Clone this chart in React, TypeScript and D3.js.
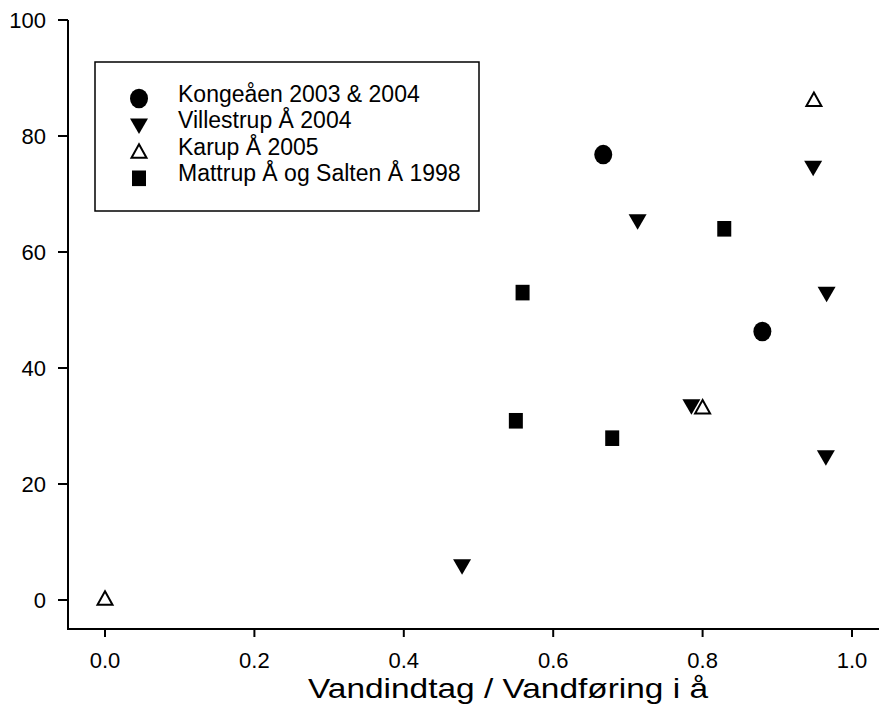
import React from "react";
import * as d3 from "d3";

// series: [x, y]
const kongeaaen = [[0.667, 76.8], [0.880, 46.3]];
const villestrup = [[0.478, 5.9], [0.713, 65.4], [0.948, 74.6], [0.966, 52.9], [0.785, 33.5], [0.965, 24.7]];
const karup = [[0.0, 0.2], [0.949, 86.2], [0.800, 33.2]];
const mattrup = [[0.559, 53.0], [0.550, 30.9], [0.679, 27.9], [0.829, 64.0]];

const seriesNames = ["Kongeåen 2003 & 2004", "Villestrup Å 2004", "Karup Å 2005", "Mattrup Å og Salten Å 1998"];
const seriesMarkers = ["circle", "down", "up", "square"];
const xTicks = [0, 0.2, 0.4, 0.6, 0.8, 1.0];
const yTicks = [0, 20, 40, 60, 80, 100];
const xLabel = "Vandindtag / Vandføring i å";

const W = 880, H = 711;
const FONT = "'Liberation Sans', Arial, Helvetica, sans-serif";

const x = d3.scaleLinear().domain([0, 1]).range([105, 852]);
const y = d3.scaleLinear().domain([-5, 100]).range([629, 20]);

function Marker({ type, cx, cy }) {
  if (type === "circle") return <ellipse cx={cx} cy={cy} rx={9} ry={9.8} fill="#000" />;
  if (type === "square") return <rect x={cx - 7} y={cy - 7.8} width={14} height={15.6} fill="#000" />;
  if (type === "down") {
    return <path d={`M${cx - 9},${cy - 6.5}L${cx + 9},${cy - 6.5}L${cx},${cy + 9}Z`} fill="#000" />;
  }
  return (
    <path d={`M${cx},${cy - 7.5}L${cx + 7.5},${cy + 6}L${cx - 7.5},${cy + 6}Z`}
      fill="#fff" stroke="#000" strokeWidth={2} strokeLinejoin="miter" />
  );
}

export default function App() {
  const all = [kongeaaen, villestrup, karup, mattrup];
  const x0 = 68, xEnd = 879, yBase = 629, yTop = 20;

  return (
    <svg width={W} height={H} style={{ position: "absolute", left: 0, top: 0, background: "#fff" }}
      fontFamily={FONT}>
      {/* axes */}
      <line x1={x0} x2={x0} y1={yTop} y2={yBase + 1} stroke="#000" strokeWidth={2} />
      <line x1={x0 - 1} x2={xEnd} y1={yBase} y2={yBase} stroke="#000" strokeWidth={2} />

      {yTicks.map(t => (
        <g key={"y" + t}>
          <line x1={58} x2={x0} y1={y(t)} y2={y(t)} stroke="#000" strokeWidth={2} />
          <text x={46} y={y(t)} dy="0.35em" textAnchor="end" fontSize={22}>{t}</text>
        </g>
      ))}
      {xTicks.map(t => (
        <g key={"x" + t}>
          <line x1={x(t)} x2={x(t)} y1={yBase} y2={yBase + 8} stroke="#000" strokeWidth={2} />
          <text x={x(t)} y={668} textAnchor="middle" fontSize={22}>{d3.format(".1f")(t)}</text>
        </g>
      ))}
      <text x={508} y={698} textAnchor="middle" fontSize={28} textLength={400}
        lengthAdjust="spacingAndGlyphs">{xLabel}</text>

      {/* legend */}
      <rect x={95} y={62} width={384} height={149} fill="#fff" stroke="#000" strokeWidth={1.5} />
      {seriesNames.map((name, i) => (
        <g key={name}>
          <Marker type={seriesMarkers[i]} cx={139} cy={98.5 + i * 26.6} />
          <text x={178} y={101.7 + i * 26.4} fontSize={23}>{name}</text>
        </g>
      ))}

      {/* points */}
      {all.map((pts, i) => (
        <g key={"s" + i}>
          {pts.map((p, j) => <Marker key={j} type={seriesMarkers[i]} cx={x(p[0])} cy={y(p[1])} />)}
        </g>
      ))}
    </svg>
  );
}
